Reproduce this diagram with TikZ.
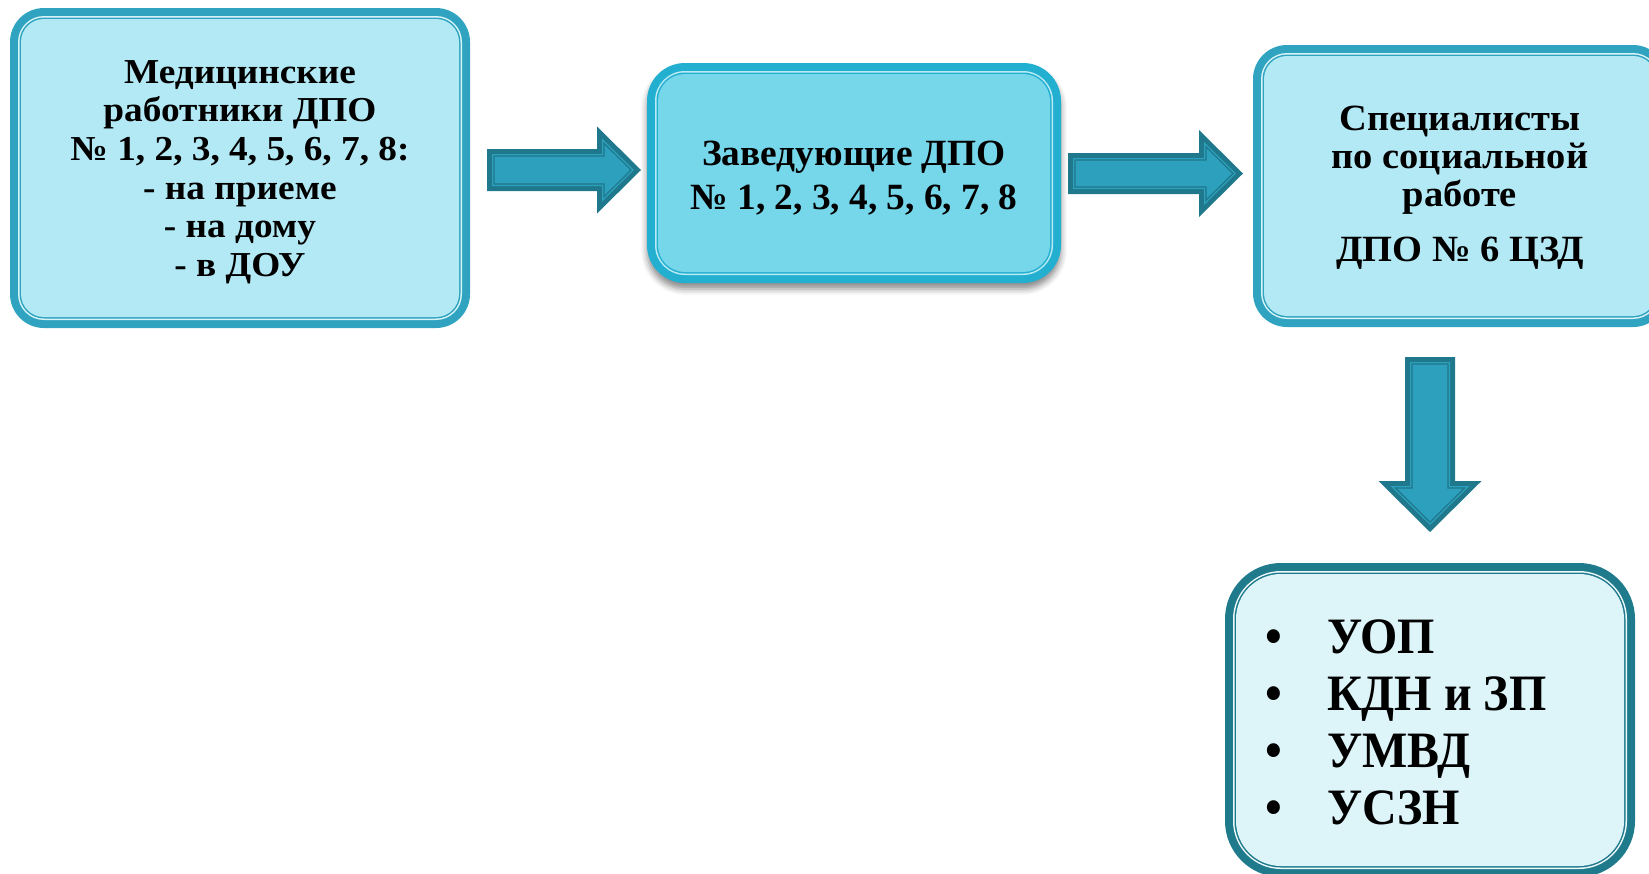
\documentclass[tikz,border=0pt]{standalone}
\usepackage{fontspec}
\setmainfont{Liberation Serif}[BoldFont={Liberation Serif Bold}]
\usetikzlibrary{shadows.blur}
\definecolor{bordA}{HTML}{2FA3BF}
\definecolor{fillA}{HTML}{B3E9F4}
\definecolor{bordB}{HTML}{22AFD0}
\definecolor{fillB}{HTML}{76D6EA}
\definecolor{bordC}{HTML}{1F7A8C}
\definecolor{fillC}{HTML}{DDF4F9}
\definecolor{arrDark}{HTML}{1F788B}
\definecolor{arrMid}{HTML}{2CA0BD}

% layered rounded box: #1 x1, #2 y1, #3 x2, #4 y2, #5 radius, #6 border, #7 fill, #8 extra options
\newcommand\layerbox[8]{%
  \pgfmathsetmacro\rOne{#5-8}%
  \pgfmathsetmacro\rTwo{#5-9.5}%
  \pgfmathsetmacro\rThr{#5-11}%
  \fill[#6, rounded corners=#5pt, #8] (#1,#2) rectangle (#3,#4);
  \fill[white!50!#7, rounded corners=\rOne pt] ({#1+8},{#2+8}) rectangle ({#3-8},{#4-8});
  \fill[#6, rounded corners=\rTwo pt] ({#1+9.5},{#2+9.5}) rectangle ({#3-9.5},{#4-9.5});
  \fill[#7, rounded corners=\rThr pt] ({#1+11},{#2+11}) rectangle ({#3-11},{#4-11});
}
% block arrow in local coords: origin at shaft start centre, pointing along +x
% #1 head back x, #2 tip x, #3 shaft half width, #4 head half width
\newcommand\blockarrow[4]{%
  \fill[arrDark] (0,-#3) -- (#1,-#3) -- (#1,-#4) -- (#2,0) -- (#1,#4) -- (#1,#3) -- (0,#3) -- cycle;
  \pgfmathsetmacro\tipA{#2-5*sqrt((#2-#1)^2+(#4)^2)/(#4)}%
  \pgfmathsetmacro\hhA{(\tipA-(#1+5))*(#4)/(#2-#1)}%
  \pgfmathsetmacro\shA{#3-5}%
  \fill[arrMid] (5,-\shA) -- ({#1+5},-\shA) -- ({#1+5},-\hhA) -- (\tipA,0) -- ({#1+5},\hhA) -- ({#1+5},\shA) -- (5,\shA) -- cycle;
  \pgfmathsetmacro\tipB{#2-7*sqrt((#2-#1)^2+(#4)^2)/(#4)}%
  \pgfmathsetmacro\hhB{(\tipB-(#1+7))*(#4)/(#2-#1)}%
  \pgfmathsetmacro\shB{#3-7}%
  \draw[arrDark, line width=1.2pt] (7,-\shB) -- ({#1+7},-\shB) -- ({#1+7},-\hhB) -- (\tipB,0) -- ({#1+7},\hhB) -- ({#1+7},\shB) -- (7,\shB) -- cycle;
}
\tikzset{
  boxtext/.style={align=center, inner sep=0pt, text=black},
}

\begin{document}
\begin{tikzpicture}[x=1pt, y=-1pt]
\useasboundingbox (0,0) rectangle (1649,873);
\clip (0,0) rectangle (1649,873);

% box 1
\layerbox{10}{8}{470}{328}{34}{bordA}{fillA}{}
\node (n1) [boxtext, font=\bfseries\addfontfeatures{FakeStretch=1.066}\fontsize{35}{38.6}\selectfont] at (240,172)
  {Медицинские\\работники ДПО\\№ 1, 2, 3, 4, 5, 6, 7, 8:\\- на приеме\\- на дому\\- в ДОУ};

% box 2 (with shadow)
\layerbox{647}{63}{1061}{283}{38}{bordB}{fillB}{blur shadow={shadow xshift=0pt, shadow yshift=-6pt, shadow blur radius=6pt, shadow opacity=45}}
\node (n2) [boxtext, font=\bfseries\addfontfeatures{FakeStretch=1.01}\fontsize{37}{44}\selectfont] at (854,178)
  {Заведующие ДПО\\№ 1, 2, 3, 4, 5, 6, 7, 8};

% box 3
\layerbox{1253}{45}{1667}{327}{34}{bordA}{fillA}{}
\node (n3) [boxtext, font=\bfseries\addfontfeatures{FakeStretch=1.04}\fontsize{37}{38}\selectfont] at (1460,188)
  {Специалисты\\по социальной\\работе\\[17pt]ДПО № 6 ЦЗД};

% box 4
\layerbox{1225}{563}{1635}{877}{56}{bordC}{fillC}{}
\node (n4) [boxtext, align=left, anchor=west, font=\bfseries\addfontfeatures{FakeStretch=0.94}\fontsize{51}{57}\selectfont] at (1265,722)
  {\makebox[62pt][l]{•}УОП\\\makebox[62pt][l]{•}КДН и ЗП\\\makebox[62pt][l]{•}УМВД\\\makebox[62pt][l]{•}УСЗН};

% arrows
\begin{scope}[shift={(487,170)}]
  \blockarrow{110}{154}{21}{43.5}
\end{scope}
\begin{scope}[shift={(1068,173.5)}]
  \blockarrow{131}{175}{20.5}{43.5}
\end{scope}
\begin{scope}[shift={(1430,357)}, rotate=-90]
  \blockarrow{124}{175}{25}{51.5}
\end{scope}
\end{tikzpicture}
\end{document}
